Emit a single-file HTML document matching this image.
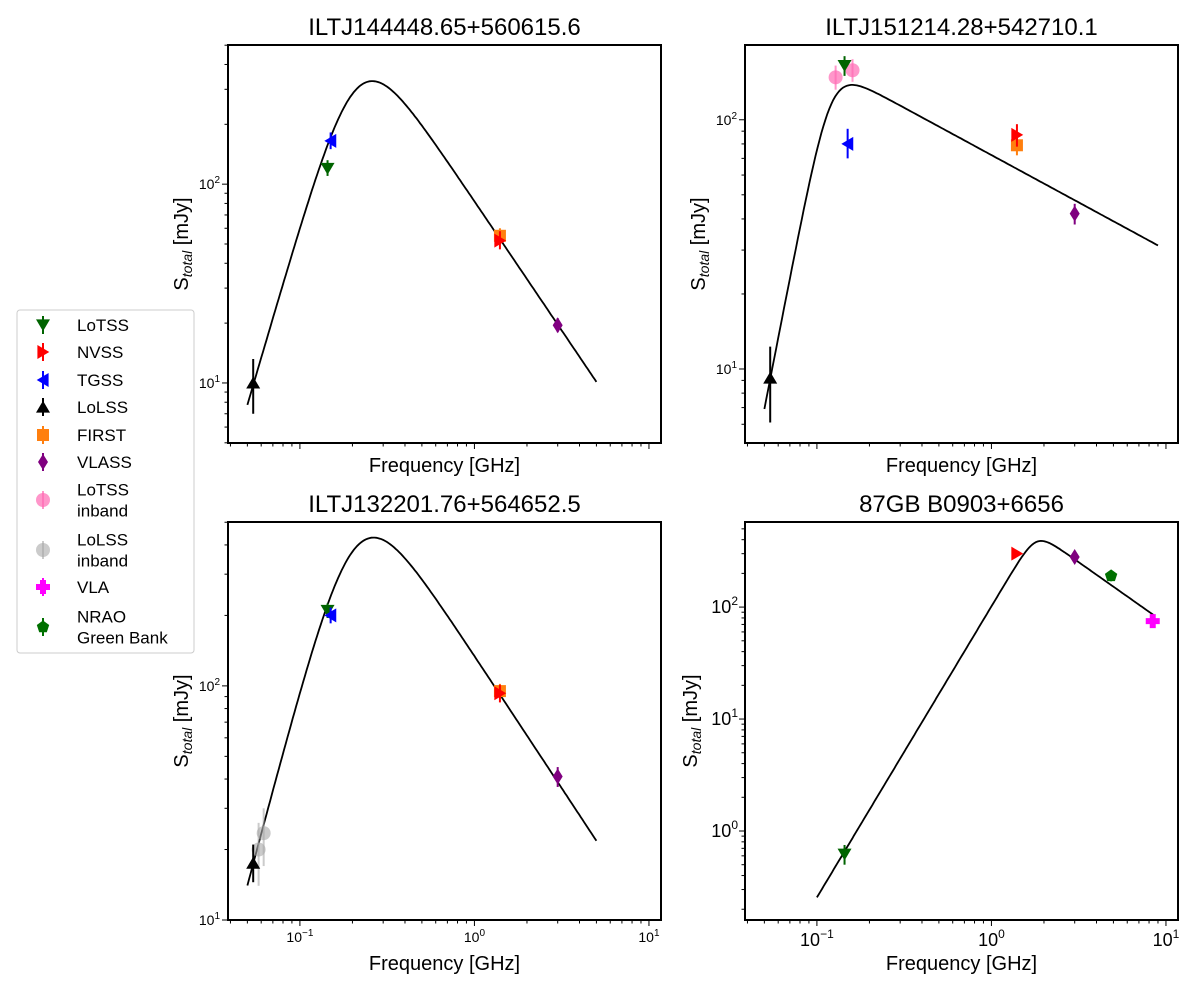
<!DOCTYPE html>
<html><head><meta charset="utf-8"><style>
body{margin:0;background:#fff;}
svg{display:block;font-family:"Liberation Sans","DejaVu Sans",sans-serif;}
</style></head><body>
<svg id="fig" width="1200" height="1000" viewBox="0 0 1200 1000"></svg>
<script>
// ---- data ----
const panelTitles = ["ILTJ144448.65+560615.6","ILTJ151214.28+542710.1","ILTJ132201.76+564652.5","87GB B0903+6656"];
// model curve params: peak flux (mJy), break freq (GHz), thick index, thin index, smoothness, fmin, fmax
const curvePeak = [330, 138, 430, 390];
const curveNub = [0.214, 0.12, 0.21, 1.8];
const curveThick = [3.0, 3.6, 2.8, 2.6];
const curveThin = [-1.3, -0.38, -1.13, -1.1];
const curveSmooth = [1.0, 0.5, 1.0, 0.3];
const curveFmin = [0.05, 0.05, 0.05, 0.1];
const curveFmax = [5, 9, 5, 8.5];
// points: [survey, freq, flux, errLo, errHi]
const p1Points = [["LoLSS",0.054,10,7,13.2],["LoTSS",0.144,120,110,132],["TGSS",0.15,165,150,182],["FIRST",1.4,55,50,60],["NVSS",1.4,52,47,58],["VLASS",3.0,19.5,18,21.2]];
const p2Points = [["LoLSS",0.054,9.2,6.1,12.3],["LoTSS inband",0.128,148,132,165],["LoTSS inband",0.16,158,142,175],["LoTSS",0.144,165,150,180],["TGSS",0.15,80,70,92],["FIRST",1.4,79,72,86],["NVSS",1.4,87,78,96],["VLASS",3.0,42,38,46]];
const p3Points = [["LoLSS inband",0.058,20,14,26],["LoLSS inband",0.062,23.5,17,30],["LoLSS",0.054,17.5,14.5,21],["LoTSS",0.144,210,195,225],["TGSS",0.15,200,185,216],["FIRST",1.4,95,88,102],["NVSS",1.4,93,85,101],["VLASS",3.0,41,37,45]];
const p4Points = [["LoTSS",0.144,0.62,0.5,0.75],["NVSS",1.4,300,285,315],["VLASS",3.0,280,260,300],["NRAO Green Bank",4.85,190,170,210],["VLA",8.4,75,68,82]];
const legendLabels = ["LoTSS","NVSS","TGSS","LoLSS","FIRST","VLASS","LoTSS\ninband","LoLSS\ninband","VLA","NRAO\nGreen Bank"];
const yTickLabels = [["10","2"],["10","1"],["10","0"]];
const xTickLabels = [["10","−1"],["10","0"],["10","1"]];

const NS="http://www.w3.org/2000/svg";
const svg=document.getElementById('fig');
function el(tag,attrs,parent){const e=document.createElementNS(NS,tag);for(const k in attrs)e.setAttribute(k,attrs[k]);(parent||svg).appendChild(e);return e;}

const style={
 "LoTSS":{c:"#006400",m:"tdown"},"NVSS":{c:"#ff0000",m:"tright"},"TGSS":{c:"#0000ff",m:"tleft"},
 "LoLSS":{c:"#000000",m:"tup"},"FIRST":{c:"#ff7f0e",m:"square"},"VLASS":{c:"#800080",m:"diamond"},
 "LoTSS inband":{c:"#ff69b4",m:"circle",o:0.7},"LoLSS inband":{c:"#a9a9a9",m:"circle",o:0.6},
 "VLA":{c:"#ff00ff",m:"plus"},"NRAO Green Bank":{c:"#007000",m:"pent"}
};
function marker(g,type,x,y,c,o){
 const r=7;let d;
 switch(type){
  case"tdown":d=`M${x-r},${y-r*0.8} L${x+r},${y-r*0.8} L${x},${y+r*0.9}Z`;break;
  case"tup":d=`M${x-r},${y+r*0.8} L${x+r},${y+r*0.8} L${x},${y-r*0.9}Z`;break;
  case"tright":d=`M${x-r*0.8},${y-r} L${x-r*0.8},${y+r} L${x+r*0.9},${y}Z`;break;
  case"tleft":d=`M${x+r*0.8},${y-r} L${x+r*0.8},${y+r} L${x-r*0.9},${y}Z`;break;
  case"square":d=`M${x-6},${y-6}h12v12h-12Z`;break;
  case"diamond":d=`M${x},${y-8} L${x+5},${y} L${x},${y+8} L${x-5},${y}Z`;break;
  case"pent":{let p=[];for(let i=0;i<5;i++){const a=-Math.PI/2+i*2*Math.PI/5;p.push((x+6.5*Math.cos(a)).toFixed(1)+","+(y+6.5*Math.sin(a)).toFixed(1));}d="M"+p.join(" L")+"Z";break;}
  case"plus":d=`M${x-3},${y-7}h6v4h4v6h-4v4h-6v-4h-4v-6h4Z`;break;
 }
 if(type==="circle"){return el('circle',{cx:x,cy:y,r:7,fill:c,'fill-opacity':o||1},g);}
 return el('path',{d:d,fill:c},g);
}

const geo=[
 {x0:228,x1:661,y0:45,y1:443,ymin:0.698,ymax:2.70,xl:false,big:false},
 {x0:745,x1:1178,y0:45,y1:443,ymin:0.703,ymax:2.30,xl:false,big:false},
 {x0:228,x1:661,y0:522,y1:920,ymin:1.0,ymax:2.70,xl:true,big:false},
 {x0:745,x1:1178,y0:522,y1:920,ymin:-0.795,ymax:2.76,xl:true,big:true}
];
const XMIN=-1.412,XMAX=1.069;
const allPoints=[p1Points,p2Points,p3Points,p4Points];

function shape(i,f){
 const x=f/curveNub[i],k=curveThick[i],l=curveThin[i],w=curveSmooth[i];
 return Math.pow(x,k)*Math.pow(1+Math.pow(x,(k-l)/w),-w);
}

geo.forEach((G,i)=>{
 const g=el('g',{},svg);
 
 
 const sx=v=>G.x0+(Math.log10(v)-XMIN)/(XMAX-XMIN)*(G.x1-G.x0);
 const sy=v=>G.y1-(Math.log10(v)-G.ymin)/(G.ymax-G.ymin)*(G.y1-G.y0);
 for(let d=-2;d<=2;d++){for(let m=1;m<=9;m++){
   const v=m*Math.pow(10,d),lv=Math.log10(v);
   if(lv>=XMIN&&lv<=XMAX){const x=sx(v);el('line',{x1:x,x2:x,y1:G.y1,y2:G.y1+(m===1?6:3.5),stroke:'#000','stroke-width':1},g);
     if(m===1&&G.xl){const lab=xTickLabels[d+1];const t=el('text',{x:x,y:G.y1+(G.big?26:22),'text-anchor':'middle','font-size':G.big?18:14},g);
       t.textContent=lab[0];const s=el('tspan',{dy:G.big?-8:-6,'font-size':G.big?12:10},t);s.textContent=lab[1];
       }}
   if(lv>=G.ymin-1e-6&&lv<=G.ymax){const y=sy(v);el('line',{x1:G.x0,x2:G.x0-(m===1?6:3.5),y1:y,y2:y,stroke:'#000','stroke-width':1},g);
     if(m===1){const lab=yTickLabels[2-d];const t=el('text',{x:G.x0-(G.big?7:8),y:y+(G.big?6:5),'text-anchor':'end','font-size':G.big?18:14},g);
       t.textContent=lab[0];const s=el('tspan',{dy:G.big?-8:-6,'font-size':G.big?12:10},t);s.textContent=lab[1];
       }}
 }}
 const a=Math.log10(curveFmin[i]),b=Math.log10(curveFmax[i]);
 let mx=0;for(let k=0;k<=2000;k++){const f=Math.pow(10,-2+4*k/2000);mx=Math.max(mx,shape(i,f));}
 let pts=[];
 for(let k=0;k<=200;k++){const f=Math.pow(10,a+(b-a)*k/200);pts.push(sx(f).toFixed(1)+","+sy(curvePeak[i]*shape(i,f)/mx).toFixed(1));}
 const cl=el('polyline',{points:pts.join(" "),fill:'none',stroke:'#000','stroke-width':1.8},g);
 
 allPoints[i].forEach(p=>{
  const st=style[p[0]];const x=sx(p[1]);
  const pg=el('g',{},g);
  
  
  el('line',{x1:x,x2:x,y1:sy(p[3]),y2:sy(p[4]),stroke:st.c,'stroke-width':2,'stroke-opacity':st.o||1},pg);
  marker(pg,st.m,x,sy(p[2]),st.c,st.o);
 });
 const fr=el('rect',{x:G.x0,y:G.y0,width:G.x1-G.x0,height:G.y1-G.y0,fill:'none',stroke:'#000','stroke-width':2},g);
 
 const cx=(G.x0+G.x1)/2;
 const tt=el('text',{x:cx,y:G.y0-10,'text-anchor':'middle','font-size':24},g);tt.textContent=panelTitles[i];
 
 const xt=el('text',{x:cx,y:G.xl?G.y1+50:G.y1+29,'text-anchor':'middle','font-size':20},g);xt.textContent="Frequency [GHz]";
 
 const ycx=G.big?G.x0-48:G.x0-40,ycy=(G.y0+G.y1)/2;
 const yt=el('text',{x:ycx,y:ycy,'text-anchor':'middle','font-size':20,transform:`rotate(-90 ${ycx} ${ycy})`},g);
 yt.textContent="S";const s1=el('tspan',{'font-style':'italic','font-size':14,dy:4},yt);s1.textContent="total";
 const s2=el('tspan',{dy:-4},yt);s2.textContent=" [mJy]";
 
});

const lg=el('g',{},svg);


el('rect',{x:17,y:310,width:177,height:343,rx:3,fill:'#fff',stroke:'#ccc','stroke-width':1},lg);
const legendKeys=["LoTSS","NVSS","TGSS","LoLSS","FIRST","VLASS","LoTSS inband","LoLSS inband","VLA","NRAO Green Bank"];
const legendY=[325,352,380,407,435,462,500,550,587,627];
legendKeys.forEach((k,j)=>{
 const st=style[k];const y=legendY[j];
 const eg=el('g',{},lg);
 
 
 el('line',{x1:43,x2:43,y1:y-9,y2:y+9,stroke:st.c,'stroke-width':2,'stroke-opacity':st.o||1},eg);
 marker(eg,st.m,43,y,st.c,st.o);
 const lines=legendLabels[j].split("\n");
 lines.forEach((ln,q)=>{const t=el('text',{x:77,y:y+6+(lines.length>1?(q-0.5)*21:0),'font-size':17},eg);t.textContent=ln;});
});
</script>
</body></html>
